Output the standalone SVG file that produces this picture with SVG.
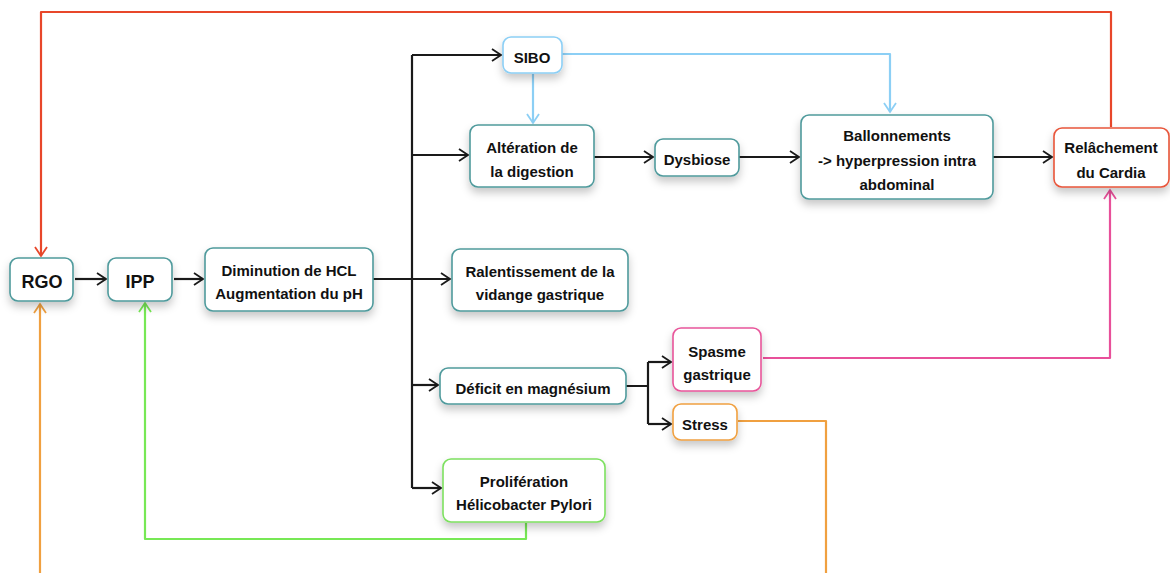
<svg xmlns="http://www.w3.org/2000/svg" width="1170" height="573" viewBox="0 0 1170 573">
<defs>
<filter id="sh" x="-20%" y="-20%" width="140%" height="160%">
<feDropShadow dx="0" dy="5" stdDeviation="4" flood-color="#000" flood-opacity="0.22"/>
</filter>
<marker id="ak" markerWidth="14" markerHeight="14" refX="11" refY="7" orient="auto" markerUnits="userSpaceOnUse"><path d="M2,1 L11,7 L2,13" fill="none" stroke="#1a1a1a" stroke-width="1.8"/></marker>
<marker id="ar" markerWidth="14" markerHeight="14" refX="11" refY="7" orient="auto" markerUnits="userSpaceOnUse"><path d="M2,1 L11,7 L2,13" fill="none" stroke="#e8472a" stroke-width="1.8"/></marker>
<marker id="ab" markerWidth="14" markerHeight="14" refX="11" refY="7" orient="auto" markerUnits="userSpaceOnUse"><path d="M2,1 L11,7 L2,13" fill="none" stroke="#8ccff5" stroke-width="1.8"/></marker>
<marker id="ap" markerWidth="14" markerHeight="14" refX="11" refY="7" orient="auto" markerUnits="userSpaceOnUse"><path d="M2,1 L11,7 L2,13" fill="none" stroke="#e8509a" stroke-width="1.8"/></marker>
<marker id="ao" markerWidth="14" markerHeight="14" refX="11" refY="7" orient="auto" markerUnits="userSpaceOnUse"><path d="M2,1 L11,7 L2,13" fill="none" stroke="#f0a040" stroke-width="1.8"/></marker>
<marker id="ag" markerWidth="14" markerHeight="14" refX="11" refY="7" orient="auto" markerUnits="userSpaceOnUse"><path d="M2,1 L11,7 L2,13" fill="none" stroke="#77e855" stroke-width="1.8"/></marker>
</defs>
<style>
rect{fill:#fff;stroke-width:1.6;filter:url(#sh)}
.t{stroke:#4f9a9c}.sb{stroke:#8ccff5}.rd{stroke:#e8553a}.pk{stroke:#e8559a}.or{stroke:#f0a040}.gr{stroke:#7de060}
text{font-family:"Liberation Sans",Arial,sans-serif;font-weight:bold;font-size:15px;fill:#111;text-anchor:middle}
.big{font-size:18px}
path.c{fill:none;stroke-width:2.2;stroke-linejoin:round}
.k{stroke:#1a1a1a}.r{stroke:#e8472a}.b{stroke:#8ccff5}.p{stroke:#e8509a}.o{stroke:#f0a040}.g{stroke:#77e855}
</style>
<rect x="0" y="0" width="1170" height="573" fill="#fff" style="filter:none;stroke:none"/>
<g id="connectors">
<path class="c k" d="M75,279 H106" marker-end="url(#ak)"/>
<path class="c k" d="M174,279 H203" marker-end="url(#ak)"/>
<path class="c k" d="M373,279 H450" marker-end="url(#ak)"/>
<path class="c k" d="M412,488 V55"/>
<path class="c k" d="M412,55 H501" marker-end="url(#ak)"/>
<path class="c k" d="M412,155 H468" marker-end="url(#ak)"/>
<path class="c k" d="M412,385 H438" marker-end="url(#ak)"/>
<path class="c k" d="M412,488 H441" marker-end="url(#ak)"/>
<path class="c k" d="M594,157 H653" marker-end="url(#ak)"/>
<path class="c k" d="M739,157 H799" marker-end="url(#ak)"/>
<path class="c k" d="M993,157 H1052" marker-end="url(#ak)"/>
<path class="c k" d="M626,386 H648 M648,362 V424" />
<path class="c k" d="M648,362 H671" marker-end="url(#ak)"/>
<path class="c k" d="M648,424 H671" marker-end="url(#ak)"/>
<path class="c r" d="M1111,127 V12 H41 V256" marker-end="url(#ar)"/>
<path class="c b" d="M562,54 H890 V112" marker-end="url(#ab)"/>
<path class="c b" d="M533,74 V123" marker-end="url(#ab)"/>
<path class="c p" d="M763,358 H1110 V190" marker-end="url(#ap)"/>
<path class="c o" d="M738,421 H826 V573"/>
<path class="c o" d="M40,573 V304" marker-end="url(#ao)"/>
<path class="c g" d="M526,523 V539 H145 V303" marker-end="url(#ag)"/>
</g>
<g id="rgo"><rect class="t" x="10" y="258" width="63" height="43" rx="8"/><text class="big" x="42" y="288">RGO</text></g>
<g id="ipp"><rect class="t" x="108" y="258" width="64" height="43" rx="8"/><text class="big" x="140" y="288">IPP</text></g>
<g id="diminution"><rect class="t" x="205" y="248" width="168" height="63" rx="8"/><text x="289" y="276">Diminution de HCL</text><text x="289" y="299">Augmentation du pH</text></g>
<g id="sibo"><rect class="sb" x="503" y="37" width="59" height="36" rx="8"/><text x="532" y="63">SIBO</text></g>
<g id="alteration"><rect class="t" x="470" y="125" width="124" height="62" rx="8"/><text x="532" y="153">Altération de</text><text x="532" y="177">la digestion</text></g>
<g id="dysbiose"><rect class="t" x="655" y="139" width="84" height="37" rx="8"/><text x="697" y="165">Dysbiose</text></g>
<g id="ballonnements"><rect class="t" x="801" y="115" width="192" height="84" rx="8"/><text x="897" y="141">Ballonnements</text><text x="897" y="166">-&gt; hyperpression intra</text><text x="897" y="190">abdominal</text></g>
<g id="relachement"><rect class="rd" x="1054" y="128" width="115" height="59" rx="8"/><text x="1111" y="153">Relâchement</text><text x="1111" y="178">du Cardia</text></g>
<g id="ralentissement"><rect class="t" x="452" y="249" width="176" height="62" rx="8"/><text x="540" y="277">Ralentissement de la</text><text x="540" y="300">vidange gastrique</text></g>
<g id="spasme"><rect class="pk" x="673" y="328" width="88" height="63" rx="8"/><text x="717" y="357">Spasme</text><text x="717" y="380">gastrique</text></g>
<g id="deficit"><rect class="t" x="440" y="368" width="186" height="36" rx="8"/><text x="533" y="394">Déficit en magnésium</text></g>
<g id="stress"><rect class="or" x="673" y="404" width="64" height="36" rx="8"/><text x="705" y="430">Stress</text></g>
<g id="proliferation"><rect class="gr" x="443" y="459" width="162" height="63" rx="8"/><text x="524" y="487">Prolifération</text><text x="524" y="510">Hélicobacter Pylori</text></g>
</svg>
